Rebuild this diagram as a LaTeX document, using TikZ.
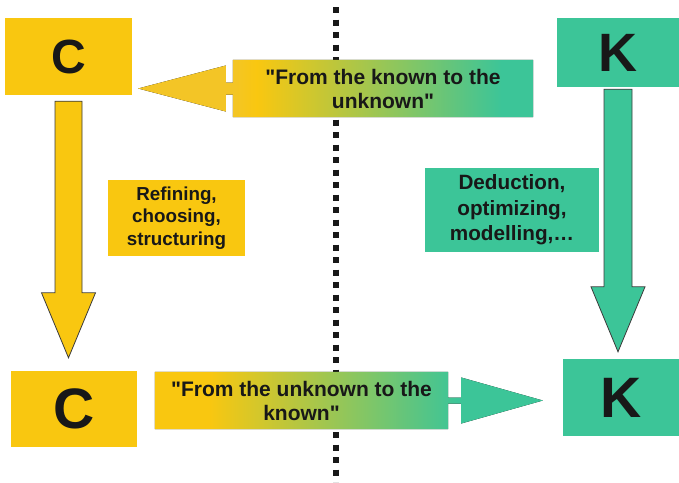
\documentclass[tikz,border=0pt]{standalone}
\usepackage{fontspec}
\setmainfont{Liberation Sans}[Ligatures=TeXOff]
\usetikzlibrary{calc,backgrounds}

\definecolor{cyel}{RGB}{249,199,16}
\definecolor{cyelhead}{RGB}{243,197,38}
\definecolor{cgrn}{RGB}{60,197,152}
\definecolor{ink}{RGB}{24,24,24}

% left-to-right blends, yellow on the left, green on the right
\pgfdeclarehorizontalshading{topblend}{100bp}{color(0bp)=(cyelhead); color(37bp)=(cyelhead); color(40bp)=(cyel); color(71bp)=(cgrn); color(100bp)=(cgrn)}
\pgfdeclarehorizontalshading{botblend}{100bp}{color(0bp)=(cyel); color(32bp)=(cyel); color(64bp)=(cgrn); color(100bp)=(cgrn)}

\begin{document}
\begin{tikzpicture}[x=1pt,y=-1pt,
  letterbox/.style={inner sep=0pt, text=ink, font=\bfseries},
  notebox/.style={inner sep=0pt, align=center, text=ink, font=\bfseries},
  downarrow/.style={draw=ink!85, line width=0.8pt, line join=miter}
]
\useasboundingbox (0,0) rectangle (679,482);

% the four letter boxes
\node[letterbox, fill=cyel, minimum width=127, minimum height=77,
      font=\bfseries\fontsize{48}{48}\selectfont] (C1) at (68.5,56.5) {C};
\node[letterbox, fill=cgrn, minimum width=122, minimum height=69,
      font=\bfseries\fontsize{54}{54}\selectfont] (K1) at (618,52.5) {K};
\node[letterbox, fill=cyel, minimum width=126, minimum height=76,
      font=\bfseries\fontsize{57}{57}\selectfont] (C2) at (74,409) {C};
\node[letterbox, fill=cgrn, minimum width=116, minimum height=77,
      font=\bfseries\fontsize{57}{57}\selectfont] (K2) at (621,397.5) {K};

% side notes
\node[notebox, fill=cyel, minimum width=137, minimum height=76,
      font=\bfseries\fontsize{18.8}{22.5}\selectfont] (R) at (176.5,218)
      {Refining,\\choosing,\\structuring};
\node[notebox, fill=cgrn, minimum width=174, minimum height=84,
      font=\bfseries\fontsize{20.7}{25.5}\selectfont] (D) at (512,210)
      {Deduction,\\optimizing,\\modelling,\dots};

% captions carried by the horizontal arrows
\node[notebox, minimum width=300, minimum height=57,
      font=\bfseries\fontsize{21}{24}\selectfont] (A1) at (383,88.5)
      {"From the known to the\\unknown"};
\node[notebox, minimum width=293, minimum height=57,
      font=\bfseries\fontsize{21}{24}\selectfont] (A2) at (301.5,400.5)
      {"From the unknown to the\\known"};

% arrow tips
\coordinate (t1) at ($(C1.east |- A1.west)+(6,0)$);
\coordinate (t2) at ($(K2.west |- A2.east)+(-20,0)$);
\coordinate (c1s) at ($(C1.south)+(0,6)$);
\coordinate (c2n) at ($(c1s |- C2.north)+(0,-13)$);
\coordinate (k1s) at ($(K1.south)+(0,2)$);
\coordinate (k2n) at ($(k1s |- K2.north)+(0,-7)$);

\begin{scope}[on background layer]
  % dividing line
  \draw[ink, line width=6pt, dash pattern=on 6pt off 6.5pt] (335.5,7) -- (335.5,482);

  % "from the known to the unknown"
  \fill[shading=topblend]
    (A1.north west) -- (A1.north east) -- (A1.south east) -- (A1.south west)
    -- ($(A1.west)+(0,6)$) -- ($(A1.west)+(-7,6)$) -- ($(A1.west)+(-7,23)$)
    -- (t1)
    -- ($(A1.west)+(-7,-23)$) -- ($(A1.west)+(-7,-6)$) -- ($(A1.west)+(0,-6)$) -- cycle;

  % "from the unknown to the known"
  \fill[shading=botblend]
    (A2.north west) -- (A2.north east) -- ($(A2.east)+(0,-3)$)
    -- ($(A2.east)+(13,-3)$) -- ($(A2.east)+(13,-23)$)
    -- (t2)
    -- ($(A2.east)+(13,23)$) -- ($(A2.east)+(13,3)$) -- ($(A2.east)+(0,3)$)
    -- (A2.south east) -- (A2.south west) -- cycle;
\end{scope}

% C to C
\draw[downarrow, fill=cyel]
  ($(c1s)+(-13.5,0)$) -- ($(c2n)+(-13.5,-65)$) -- ($(c2n)+(-27,-65)$)
  -- (c2n) -- ($(c2n)+(27,-65)$) -- ($(c2n)+(13.5,-65)$)
  -- ($(c1s)+(13.5,0)$) -- cycle;

% K to K
\draw[downarrow, fill=cgrn]
  ($(k1s)+(-14,0)$) -- ($(k2n)+(-14,-65)$) -- ($(k2n)+(-27,-65)$)
  -- (k2n) -- ($(k2n)+(27,-65)$) -- ($(k2n)+(14,-65)$)
  -- ($(k1s)+(14,0)$) -- cycle;
\end{tikzpicture}
\end{document}
